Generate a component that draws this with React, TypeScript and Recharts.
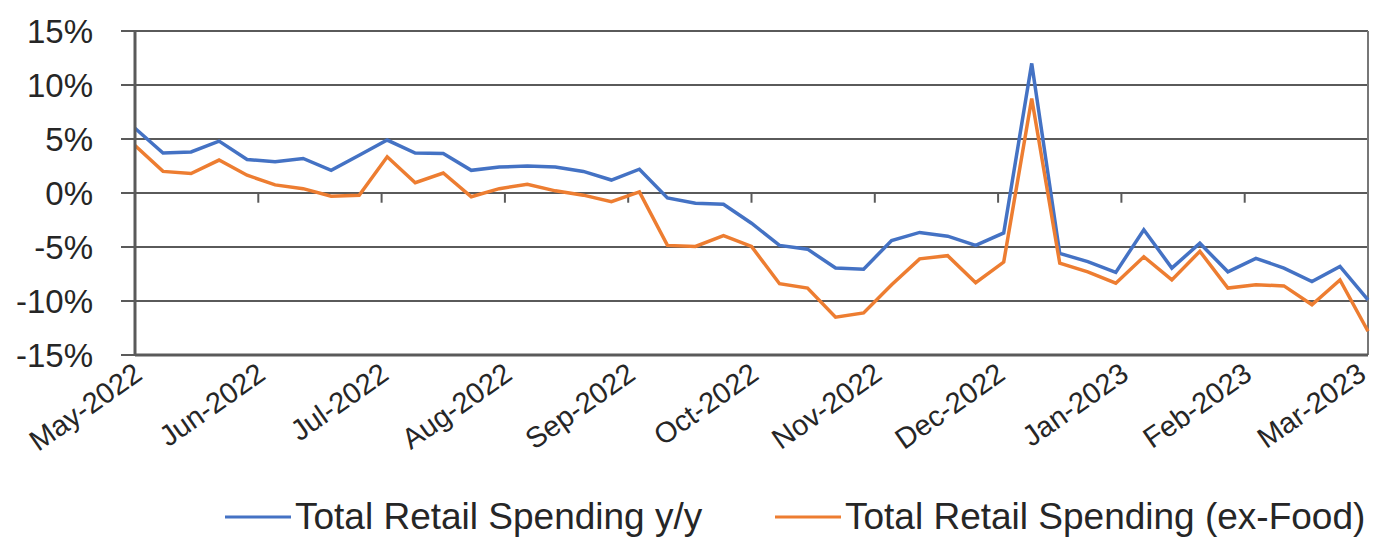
import React from 'react';
import { LineChart, Line, XAxis, YAxis, CartesianGrid, Legend, ReferenceLine } from 'recharts';

// weekly readings, May-2022 .. Mar-2023 (values in %)
const totalSpendingYoY = [
  6.0, 3.7, 3.8, 4.8, 3.1, 2.9, 3.2, 2.1, 3.5, 4.9,
  3.7, 3.65, 2.1, 2.4, 2.5, 2.4, 2.0, 1.2, 2.2, -0.45,
  -0.95, -1.05, -2.8, -4.85, -5.2, -6.95, -7.05, -4.4, -3.65, -4.0,
  -4.85, -3.7, 12.0, -5.6, -6.35, -7.35, -3.4, -6.95, -4.65, -7.3,
  -6.05, -6.95, -8.2, -6.8, -9.9,
];

const spendingExFood = [
  4.4, 2.0, 1.8, 3.05, 1.65, 0.75, 0.4, -0.3, -0.2, 3.35,
  0.95, 1.85, -0.35, 0.4, 0.8, 0.2, -0.2, -0.8, 0.1, -4.85,
  -4.95, -3.95, -4.95, -8.4, -8.8, -11.5, -11.1, -8.5, -6.1, -5.8,
  -8.3, -6.4, 8.75, -6.5, -7.3, -8.35, -5.9, -8.05, -5.4, -8.8,
  -8.5, -8.6, -10.35, -8.05, -12.8,
];

const monthLabels = [
  'May-2022', 'Jun-2022', 'Jul-2022', 'Aug-2022', 'Sep-2022', 'Oct-2022',
  'Nov-2022', 'Dec-2022', 'Jan-2023', 'Feb-2023', 'Mar-2023',
];
// where each month label sits on the week scale
const monthTicks = [0, 4.4, 8.8, 13.2, 17.6, 22, 26.4, 30.8, 35.2, 39.6, 44];

const yTicks = [-15, -10, -5, 0, 5, 10, 15];

const BLUE = '#4472C4';
const ORANGE = '#ED7D31';
const GRID = '#5a5a5a';
const TEXT = '#262626';
const FONT = '"Liberation Sans", Arial, sans-serif';

const data = totalSpendingYoY.map((v, i) => ({
  week: i,
  total: v,
  exFood: spendingExFood[i],
}));

const legendItems = [
  { label: 'Total Retail Spending y/y', color: BLUE, left: 225 },
  { label: 'Total Retail Spending (ex-Food)', color: ORANGE, left: 775 },
];

const renderLegend = () => (
  <div style={{ position: 'relative', height: 50 }}>
    {legendItems.map((it) => (
      <div
        key={it.label}
        style={{ position: 'absolute', left: it.left, top: 4, height: 50, display: 'flex', alignItems: 'center' }}
      >
        <svg width={66} height={6} style={{ marginRight: 4 }}>
          <line x1={0} y1={3} x2={66} y2={3} stroke={it.color} strokeWidth={3} />
        </svg>
        <span style={{ fontFamily: FONT, fontSize: 37, color: TEXT, whiteSpace: 'nowrap' }}>{it.label}</span>
      </div>
    ))}
  </div>
);

// rotated month label; the last one is pulled in so it stays inside the frame
const MonthTick = (props: any) => {
  const { x, y, payload, index } = props;
  const shift = index === monthLabels.length - 1 ? -12 : -3;
  return (
    <g transform={`translate(${x + shift},${y + 4})`}>
      <text
        transform="rotate(-35)"
        textAnchor="end"
        dy="0.72em"
        fontFamily={FONT}
        fontSize={29}
        fill={TEXT}
      >
        {monthLabels[monthTicks.indexOf(payload.value)]}
      </text>
    </g>
  );
};

export default function App() {
  return (
    <div style={{ position: 'absolute', left: 0, top: 0 }}>
      <LineChart width={1377} height={538} data={data} margin={{ top: 31, right: 9, bottom: 0, left: 0 }}>
        <CartesianGrid vertical={false} stroke={GRID} strokeWidth={2} />
        <XAxis
          dataKey="week"
          type="number"
          domain={[0, 44]}
          ticks={monthTicks}
          interval={0}
          height={133}
          tickLine={false}
          tickSize={0}
          axisLine={{ stroke: GRID, strokeWidth: 3 }}
          tick={<MonthTick />}
        />
        <YAxis
          domain={[-15, 15]}
          ticks={yTicks}
          interval={0}
          width={135}
          tickSize={14}
          tickMargin={28}
          tickLine={{ stroke: GRID, strokeWidth: 2 }}
          axisLine={{ stroke: GRID, strokeWidth: 3 }}
          tickFormatter={(v) => `${v}%`}
          tick={{ fontFamily: FONT, fontSize: 33, fill: TEXT }}
        />
        <ReferenceLine x={44} stroke="#777" strokeWidth={2} />
        {monthTicks.slice(1, -1).map((t) => (
          <ReferenceLine
            key={t}
            segment={[{ x: t, y: 0 }, { x: t, y: -0.9 }]}
            stroke={GRID}
            strokeWidth={2}
          />
        ))}
        <Legend verticalAlign="bottom" height={50} content={renderLegend} wrapperStyle={{ left: 0, width: 1377 }} />
        <Line type="linear" dataKey="total" stroke={BLUE} strokeWidth={3.5} dot={false} isAnimationActive={false} />
        <Line type="linear" dataKey="exFood" stroke={ORANGE} strokeWidth={3.5} dot={false} isAnimationActive={false} />
      </LineChart>
    </div>
  );
}
